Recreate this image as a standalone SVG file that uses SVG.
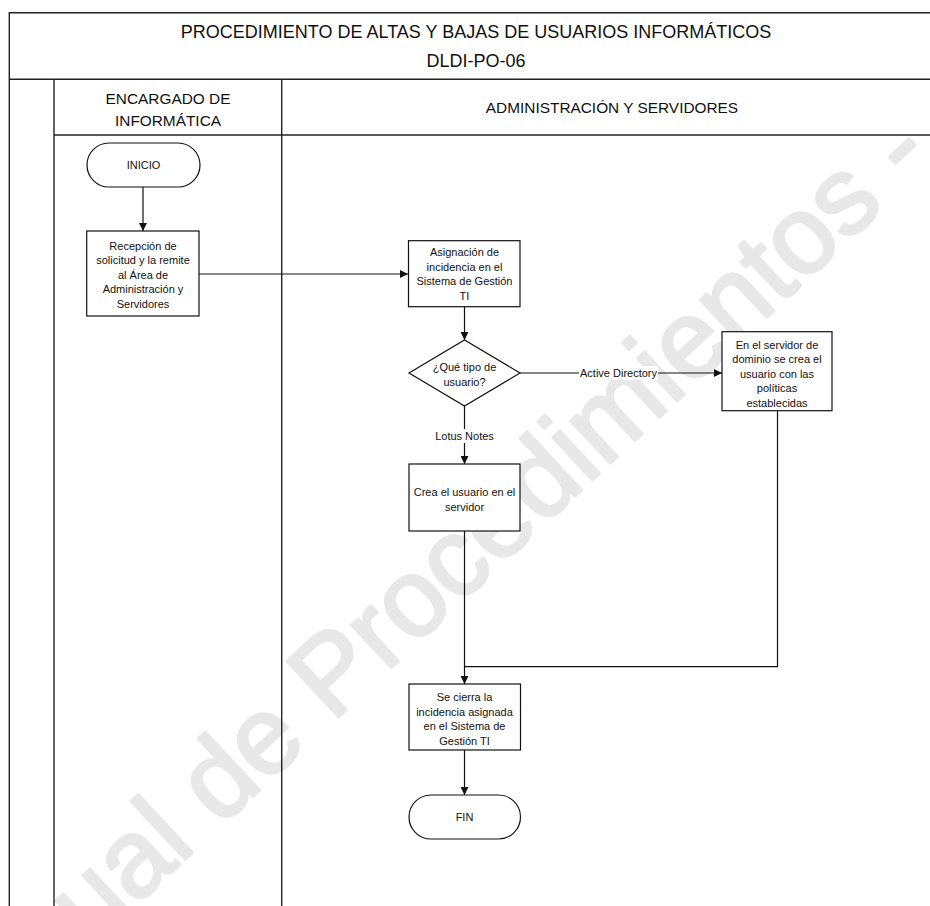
<svg xmlns="http://www.w3.org/2000/svg" width="930" height="906" viewBox="0 0 930 906">
  <style>
    .frame { fill: none; stroke: #222; stroke-width: 1.4; }
    .shape { fill: #fff; stroke: #111; stroke-width: 1.2; }
    .edge { fill: none; stroke: #111; stroke-width: 1.2; }
    .title { font-family: "Liberation Sans", Arial, sans-serif; font-size: 18px; fill: #111; text-anchor: middle; }
    .lane { font-family: "Liberation Sans", Arial, sans-serif; font-size: 15.4px; fill: #111; text-anchor: middle; }
    .lbl { font-family: "Liberation Sans", Arial, sans-serif; font-size: 11px; fill: #111; text-anchor: middle; dominant-baseline: central; }
    .wm { font-family: "Liberation Sans", Arial, sans-serif; font-size: 110px; fill: #e8e8e8; stroke: #e8e8e8; stroke-width: 3; stroke-linejoin: round; }
  </style>
  <defs>
    <marker id="arrow" viewBox="0 0 10 10" refX="10" refY="5" markerWidth="8" markerHeight="8" markerUnits="userSpaceOnUse" orient="auto">
      <path d="M0,0 L10,5 L0,10 z" fill="#111"/>
    </marker>
  </defs>

  <rect width="930" height="906" fill="#fff"/>

  <!-- watermark -->
  <text class="wm" x="0" y="0" transform="translate(-66,1094) rotate(-43)">Manual de Procedimientos -</text>

  <!-- frame and swimlanes -->
  <g id="frame">
    <path class="frame" d="M943,12.7 H9.3 V906"/>
    <path class="frame" d="M9.3,79.3 H943"/>
    <path class="frame" d="M54,79.3 V906"/>
    <path class="frame" d="M54,135 H943"/>
    <path class="frame" d="M281.7,79.3 V906"/>
    <text class="title" x="476" y="38.3">PROCEDIMIENTO DE ALTAS Y BAJAS DE USUARIOS INFORMÁTICOS</text>
    <text class="title" x="476" y="66.7">DLDI-PO-06</text>
    <text class="lane" x="168" y="104.3">ENCARGADO DE</text>
    <text class="lane" x="168" y="126">INFORMÁTICA</text>
    <text class="lane" x="612" y="113.3">ADMINISTRACIÓN Y SERVIDORES</text>
  </g>

  <!-- connectors -->
  <g id="connectors">
    <path class="edge" d="M143,187 V231" marker-end="url(#arrow)"/>
    <path class="edge" d="M199,274 H408" marker-end="url(#arrow)"/>
    <path class="edge" d="M464.5,306.7 V340" marker-end="url(#arrow)"/>
    <path class="edge" d="M520,373 H722" marker-end="url(#arrow)"/>
    <path class="edge" d="M464.5,406 V464" marker-end="url(#arrow)"/>
    <path class="edge" d="M777.5,410.7 V666.7 H464.5"/>
    <path class="edge" d="M464.5,531 V684" marker-end="url(#arrow)"/>
    <path class="edge" d="M464.5,750 V795" marker-end="url(#arrow)"/>
    <rect x="579" y="366" width="79" height="14" fill="#fff"/>
    <text class="lbl" x="618.5" y="373">Active Directory</text>
    <rect x="434" y="429" width="61" height="14" fill="#fff"/>
    <text class="lbl" x="464.5" y="436">Lotus Notes</text>
  </g>

  <g id="inicio">
    <rect class="shape" x="87" y="143" width="113" height="44" rx="22" ry="22"/>
    <text class="lbl" x="143.5" y="165">INICIO</text>
  </g>

  <g id="recepcion">
    <rect class="shape" x="86.7" y="231" width="112.3" height="85"/>
    <text class="lbl" x="143" y="245.5">Recepción de</text>
    <text class="lbl" x="143" y="260">solicitud y la remite</text>
    <text class="lbl" x="143" y="274.5">al Área de</text>
    <text class="lbl" x="143" y="289">Administración y</text>
    <text class="lbl" x="143" y="303.5">Servidores</text>
  </g>

  <g id="asignacion">
    <rect class="shape" x="408.5" y="240.7" width="111.5" height="66"/>
    <text class="lbl" x="464.5" y="252">Asignación de</text>
    <text class="lbl" x="464.5" y="266.5">incidencia en el</text>
    <text class="lbl" x="464.5" y="281">Sistema de Gestión</text>
    <text class="lbl" x="464.5" y="295.5">TI</text>
  </g>

  <g id="decision">
    <polygon class="shape" points="409,373 464.5,340 520,373 464.5,406"/>
    <text class="lbl" x="464.5" y="367">¿Qué tipo de</text>
    <text class="lbl" x="464.5" y="381.5">usuario?</text>
  </g>

  <g id="active-directory">
    <rect class="shape" x="722" y="331.7" width="110" height="79"/>
    <text class="lbl" x="777" y="344.5">En el servidor de</text>
    <text class="lbl" x="777" y="359">dominio se crea el</text>
    <text class="lbl" x="777" y="373.5">usuario con las</text>
    <text class="lbl" x="777" y="388">políticas</text>
    <text class="lbl" x="777" y="402.5">establecidas</text>
  </g>

  <g id="lotus">
    <rect class="shape" x="409" y="464" width="111" height="67"/>
    <text class="lbl" x="464.5" y="491.7">Crea el usuario en el</text>
    <text class="lbl" x="464.5" y="506.7">servidor</text>
  </g>

  <g id="cierre">
    <rect class="shape" x="409" y="684" width="111.5" height="66"/>
    <text class="lbl" x="464.5" y="696.7">Se cierra la</text>
    <text class="lbl" x="464.5" y="711.5">incidencia asignada</text>
    <text class="lbl" x="464.5" y="726">en el Sistema de</text>
    <text class="lbl" x="464.5" y="740.5">Gestión TI</text>
  </g>

  <g id="fin">
    <rect class="shape" x="409" y="795" width="111.5" height="44" rx="22" ry="22"/>
    <text class="lbl" x="464.5" y="817">FIN</text>
  </g>
</svg>
